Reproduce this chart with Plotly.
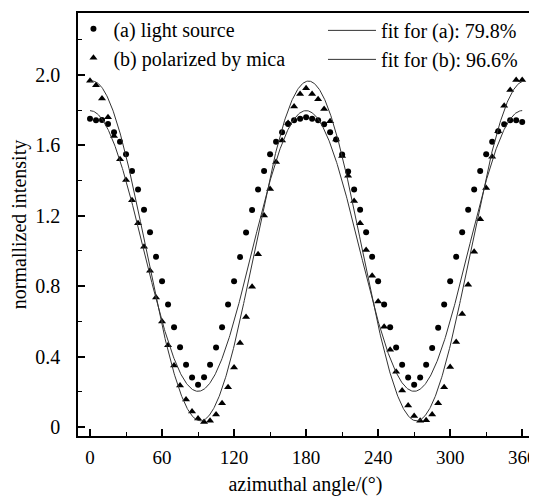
import numpy as np
import plotly.graph_objects as go

# 測定角度 (5度刻み)
angles = list(range(0, 361, 5))

# (a) 光源そのまま
intensity_a = [
    1.752, 1.743, 1.745, 1.722, 1.675, 1.621, 1.550, 1.454, 1.349, 1.234,
    1.106, 0.967, 0.828, 0.695, 0.566, 0.453, 0.353, 0.280, 0.240, 0.282,
    0.353, 0.451, 0.566, 0.695, 0.828, 0.966, 1.105, 1.233, 1.349, 1.454,
    1.550, 1.621, 1.675, 1.722, 1.743, 1.752, 1.760, 1.752, 1.743, 1.720,
    1.675, 1.634, 1.548, 1.452, 1.349, 1.234, 1.106, 0.967, 0.828, 0.695,
    0.566, 0.451, 0.353, 0.280, 0.239, 0.280, 0.353, 0.449, 0.563, 0.695,
    0.828, 0.967, 1.106, 1.234, 1.349, 1.454, 1.550, 1.621, 1.681, 1.720,
    1.743, 1.743, 1.733,
]

# (b) 雲母で偏光
intensity_b = [
    1.968, 1.942, 1.867, 1.760, 1.653, 1.521, 1.403, 1.288, 1.157, 1.024,
    0.888, 0.736, 0.599, 0.464, 0.349, 0.235, 0.156, 0.088, 0.047, 0.028,
    0.034, 0.070, 0.134, 0.225, 0.338, 0.477, 0.624, 0.797, 0.981, 1.202,
    1.352, 1.506, 1.628, 1.728, 1.822, 1.893, 1.925, 1.893, 1.863, 1.807,
    1.737, 1.634, 1.540, 1.427, 1.284, 1.158, 1.006, 0.859, 0.712, 0.569,
    0.438, 0.314, 0.207, 0.122, 0.062, 0.034, 0.038, 0.070, 0.134, 0.225,
    0.340, 0.483, 0.642, 0.808, 0.995, 1.180, 1.358, 1.536, 1.681, 1.825,
    1.915, 1.972, 1.972,
]

# フィットパラメータ: I = offset + amp * cos(2(θ - phase))
fit_a = dict(offset=1.0, amp=0.798, phase=0.0)
fit_b = dict(offset=1.0, amp=0.966, phase=2.0)

x_ticks = [0, 60, 120, 180, 240, 300, 360]
y_ticks = [0, 0.4, 0.8, 1.2, 1.6, 2.0]
y_ticktext = ['0', '0.4', '0.8', '1.2', '1.6', '2.0']

theta = np.linspace(0, 360, 721)


def fit_curve(p):
    return p['offset'] + p['amp'] * np.cos(np.radians(2 * (theta - p['phase'])))


FONT = 'Liberation Serif'
FS = 20

fig = go.Figure()

fig.add_trace(go.Scatter(
    x=angles, y=intensity_a, mode='markers', name='(a) light source',
    marker=dict(symbol='circle', size=6, color='black'), legend='legend'
))
fig.add_trace(go.Scatter(
    x=angles, y=intensity_b, mode='markers', name='(b) polarized by mica',
    marker=dict(symbol='triangle-up', size=7, color='black'), legend='legend'
))
fig.add_trace(go.Scatter(
    x=theta, y=fit_curve(fit_a), mode='lines', name='fit for (a): 79.8%',
    line=dict(color='#333333', width=1), legend='legend2'
))
fig.add_trace(go.Scatter(
    x=theta, y=fit_curve(fit_b), mode='lines', name='fit for (b): 96.6%',
    line=dict(color='#333333', width=1), legend='legend2'
))

axis_common = dict(
    showline=True, linecolor='black', linewidth=1.5, mirror=True,
    ticks='inside', ticklen=7, tickwidth=1.5, tickcolor='black',
    showgrid=False, zeroline=False,
)

fig.update_xaxes(
    range=[-10, 369], tickvals=x_ticks, ticklabelstandoff=3,
    tickfont=dict(family=FONT, size=19, color='black'),
    minor=dict(dtick=30, tick0=0, ticks='inside', ticklen=4, tickwidth=1.2, tickcolor='black'),
    title=dict(text='azimuthal angle/(°)', font=dict(family=FONT, size=FS, color='black'), standoff=10),
    **axis_common
)
fig.update_yaxes(
    range=[-0.052, 2.353], tickvals=y_ticks, ticktext=y_ticktext, ticklabelstandoff=12,
    tickfont=dict(family=FONT, size=FS, color='black'),
    minor=dict(dtick=0.2, tick0=0, ticks='inside', ticklen=4, tickwidth=1.2, tickcolor='black'),
    title=dict(text='normallized intensity', font=dict(family=FONT, size=FS, color='black'), standoff=6),
    **axis_common
)

# ページ余白(8px)ぶんを差し引いたサイズ
fig.update_layout(
    width=529, height=492,
    margin=dict(l=70, r=4, t=1, b=64),
    plot_bgcolor='white', paper_bgcolor='white',
    font=dict(family=FONT, size=FS, color='black'),
    legend=dict(
        x=-0.01, y=1.009, xanchor='left', yanchor='top',
        bgcolor='rgba(0,0,0,0)', itemwidth=30, tracegroupgap=0,
        font=dict(family=FONT, size=FS, color='black'),
    ),
    legend2=dict(
        x=0.978, y=1.005, xanchor='right', yanchor='top',
        bgcolor='rgba(0,0,0,0)', itemwidth=48,
        font=dict(family=FONT, size=FS, color='black'),
    ),
)

fig.write_html("out.html")
